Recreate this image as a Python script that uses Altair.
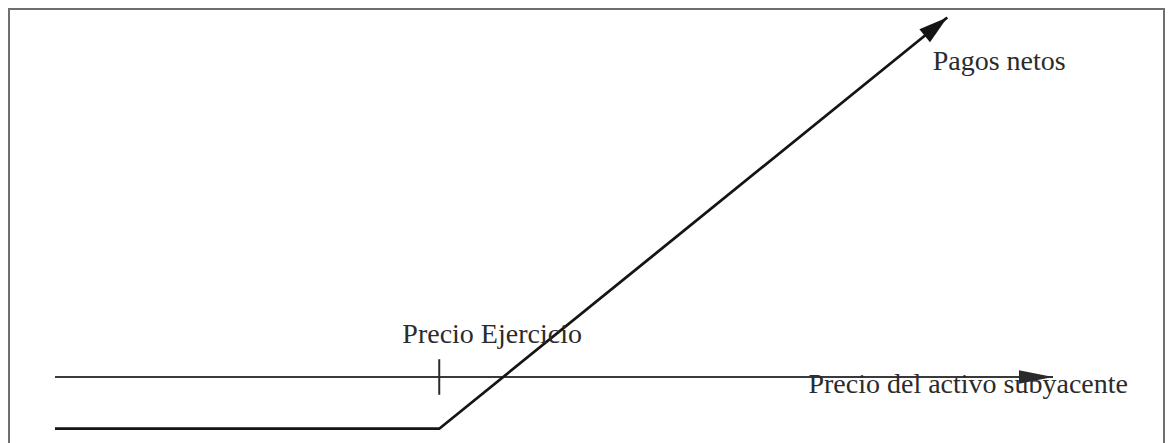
import math
import altair as alt
import pandas as pd

# Payoff (pagos netos) of a long call as function of the underlying price
precio = [0, 38.5, 89.4]
pago = [-6.4, -6.4, 44.5]

# horizontal axis of the underlying price
eje_precio = [0, 100]
eje_pago = [0, 0]

# strike marker
strike = 38.5
tick_pago = [-2.2, 2.2]

# labels
etiquetas = ["Precio Ejercicio", "Precio del activo subyacente", "Pagos netos"]
etiq_precio = [43.8, 91.5, 94.6]
etiq_pago = [4.2, -2.0, 38.0]

W, H = 1155, 440
X_DOM = [-4.61, 111.12]
Y_DOM = [-8.91, 45.55]

xs = alt.Scale(domain=X_DOM, nice=False, zero=False)
ys = alt.Scale(domain=Y_DOM, nice=False, zero=False)

kx = W / (X_DOM[1] - X_DOM[0])
ky = H / (Y_DOM[1] - Y_DOM[0])
ang_pago = math.degrees(math.atan2((precio[2] - precio[1]) * kx, (pago[2] - pago[1]) * ky))

df_pago = pd.DataFrame({"precio": precio, "pago": pago})
df_eje = pd.DataFrame({"precio": [eje_precio[0]], "precio2": [eje_precio[1]], "pago": [eje_pago[0]]})
df_tick = pd.DataFrame({"precio": [strike], "pago": [tick_pago[0]], "pago2": [tick_pago[1]]})
df_flechas = pd.DataFrame({
    "precio": [eje_precio[1], precio[-1]],
    "pago": [eje_pago[1], pago[-1]],
    "ang": [90, ang_pago],
    "col": ["#2a2a2a", "#141414"],
    "forma": ["M0,0L-0.2,1L0.2,1Z", "M0,0L-0.29,1L0.29,1Z"],
    "tam": [4624, 3364],
})
df_text = pd.DataFrame({"precio": etiq_precio, "pago": etiq_pago, "t": etiquetas})

X = alt.X("precio:Q", scale=xs, axis=None)
Y = alt.Y("pago:Q", scale=ys, axis=None)

linea = alt.Chart(df_pago).mark_line(color="#151515", strokeWidth=2.8).encode(x=X, y=Y)
eje = alt.Chart(df_eje).mark_rule(color="#3a3a3a", strokeWidth=1.9).encode(
    x=X, x2="precio2:Q", y=Y
)
tick = alt.Chart(df_tick).mark_rule(color="#2a2a2a", strokeWidth=2).encode(
    x=X, y=Y, y2="pago2:Q"
)
flechas = alt.Chart(df_flechas).mark_point(filled=True, opacity=1).encode(
    x=X, y=Y,
    angle=alt.Angle("ang:Q", scale=None),
    color=alt.Color("col:N", scale=None),
    shape=alt.Shape("forma:N", scale=None),
    size=alt.Size("tam:Q", scale=None),
)
texto = alt.Chart(df_text).mark_text(
    font="Liberation Serif", fontSize=28, color="#2b2b2b", align="center", baseline="alphabetic"
).encode(x=X, y=Y, text="t:N")

chart = (
    alt.layer(eje, tick, linea, flechas, texto)
    .properties(width=W, height=H, padding={"left": 1, "top": 1, "right": 1, "bottom": 0})
    .configure_view(stroke="#6f6f6f", strokeWidth=2)
)

chart.save("out.html", embed_options={"renderer": "svg", "actions": False})
